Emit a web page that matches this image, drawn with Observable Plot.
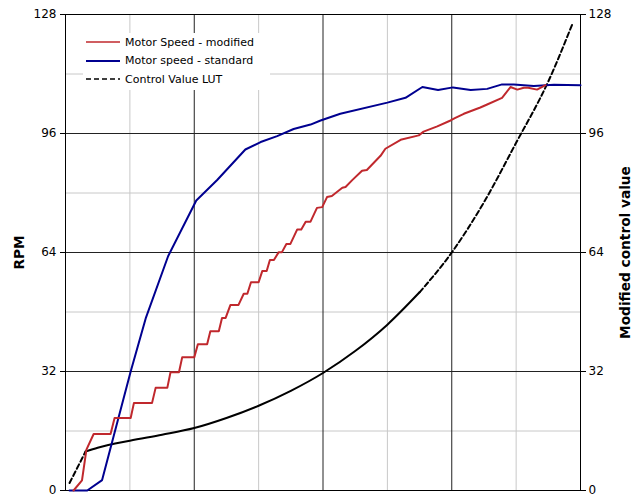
<!DOCTYPE html>
<html>
<head>
<meta charset="utf-8">
<script src="https://cdn.jsdelivr.net/npm/d3@7"></script>
<script src="https://cdn.jsdelivr.net/npm/@observablehq/plot@0.6"></script>
<style>
  body { margin: 0; background: white; font-family: "DejaVu Sans", Verdana, sans-serif; }
  #chart { position: relative; width: 640px; height: 500px; }
  #legend { position: absolute; left: 83px; top: 33px; width: 187px; padding-bottom: 1px; background: white; font-size: 11px; }
  #legend .row { display: flex; align-items: center; height: 18.5px; }
  #legend svg { margin-left: 3px; margin-right: 5px; }
</style>
</head>
<body>
<div id="chart"></div>
<script>
// Motor speed with modified control curve (staircase)
const redX = [2, 4.1, 5.2, 7, 11.2, 12.2, 16.2, 17, 21.5, 22.4, 25.3, 26.1, 28.2, 29, 32, 32.9, 35.2, 36, 38.1, 38.9,
  39.8, 41, 43, 44.3, 45.2, 46.1, 48, 48.9, 50, 50.8, 51.8, 53, 53.8, 54.9, 55.9, 57.6, 58.6, 59.7, 60.9, 62.5,
  63.8, 65, 66.2, 68.8, 69.6, 71.2, 73.7, 74.9, 78.3, 79.5, 83.3, 87.8, 89, 92.4, 95.7, 96.9, 99, 103.1, 104.8, 108.5,
  110.6, 112.3, 113.9, 115, 117.2, 119.3];
const redY = [0, 2.7, 11, 15.2, 15.2, 19.5, 19.5, 23.5, 23.5, 27.6, 27.6, 31.8, 31.8, 35.8, 35.8, 39.3, 39.3, 42.8, 42.8, 46.4,
  46.4, 49.9, 49.9, 52.9, 52.9, 56, 56, 59, 59, 62, 62, 64.1, 64.1, 66.3, 66.3, 70.2, 70.2, 72.3, 72.3, 76,
  76.2, 78.9, 79.2, 81.4, 81.6, 83.4, 86, 86.2, 90, 91.9, 94.3, 95.5, 96.5, 97.9, 99.5, 100.2, 101.3, 103, 103.8, 105.6,
  108.5, 107.8, 108.3, 108.3, 107.8, 109];

// Motor speed with standard (linear) control
const blueX = [1, 5.4, 9.1, 16.2, 20, 25.5, 32.5, 37.7, 44.7, 48.5, 52.6, 56.7, 60.9, 63.4, 68.3, 80, 84.5, 88.7,
  92.6, 96.3, 100.7, 104.8, 108.5, 111.4, 116.4, 121.4, 128];
const blueY = [0, 0, 2.8, 32, 46.5, 63, 78, 83.5, 91.7, 93.7, 95.3, 97.2, 98.4, 99.5, 101.3, 104.3, 105.6, 108.5,
  107.7, 108.4, 107.7, 108, 109.2, 109.2, 108.8, 109.1, 109];

// Control value look-up table (secondary axis, same 0..128 range)
const lutX = [1, 5, 8, 16, 24, 32, 40, 48, 56, 64, 72, 80, 88, 96, 104, 112, 120, 126];
const lutY = [2, 10.5, 11.5, 13.4, 15, 16.8, 19.5, 22.8, 26.8, 31.6, 37.5, 44.6, 53.3, 64, 77.5, 93.5, 110, 125.5];

const yTicks = [0, 32, 64, 96, 128];
const majorGrid = [32, 64, 96];
const minorGrid = [16, 48, 80, 112];

const seriesNames = ["Motor Speed - modified", "Motor speed - standard", "Control Value LUT"];
const seriesColors = ["#c0282d", "#000090", "black"];

const red = redX.map((x, i) => ({x, y: redY[i]}));
const blue = blueX.map((x, i) => ({x, y: blueY[i]}));
const lut = lutX.map((x, i) => ({x, y: lutY[i]}));
// the LUT looks solid where its points are dense, dashed at both ends
const lutStart = lut.filter((d) => d.x <= 5);
const lutMid = lut.filter((d) => d.x >= 5 && d.x <= 88);
const lutEnd = lut.filter((d) => d.x >= 88);

const chart = Plot.plot({
  width: 640,
  height: 500,
  marginLeft: 65,
  marginRight: 60,
  marginTop: 14,
  marginBottom: 10,
  style: {fontFamily: "DejaVu Sans, Verdana, sans-serif", fontSize: "12px", color: "black", background: "white"},
  x: {domain: [0, 128], axis: null},
  y: {domain: [0, 128]},
  marks: [
    Plot.gridX(minorGrid, {stroke: "#c8c8c8", strokeOpacity: 1}),
    Plot.gridY(minorGrid, {stroke: "#c8c8c8", strokeOpacity: 1}),
    Plot.gridX(majorGrid, {stroke: "#222", strokeOpacity: 1}),
    Plot.gridY(majorGrid, {stroke: "#222", strokeOpacity: 1}),
    Plot.frame({stroke: "black"}),
    Plot.axisY(yTicks, {anchor: "left", tickSize: 5, tickPadding: 4, label: "RPM", labelAnchor: "center", labelOffset: 51, labelArrow: "none"}),
    Plot.axisY(yTicks, {anchor: "right", tickSize: 5, tickPadding: 3, label: "Modified control value", labelAnchor: "center", labelOffset: 49, labelArrow: "none"}),
    Plot.line(lutStart, {x: "x", y: "y", stroke: seriesColors[2], strokeWidth: 2, strokeDasharray: "5,3"}),
    Plot.line(lutMid, {x: "x", y: "y", stroke: seriesColors[2], strokeWidth: 2, curve: "monotone-x"}),
    Plot.line(lutEnd, {x: "x", y: "y", stroke: seriesColors[2], strokeWidth: 2, strokeDasharray: "5,3", curve: "monotone-x"}),
    Plot.line(blue, {x: "x", y: "y", stroke: seriesColors[1], strokeWidth: 2}),
    Plot.line(red, {x: "x", y: "y", stroke: seriesColors[0], strokeWidth: 2})
  ]
});

d3.select(chart).selectAll('g[aria-label="y-axis label"] text')
  .attr("font-weight", "bold")
  .attr("font-size", 13.7);

const container = document.getElementById("chart");
container.appendChild(chart);

// legend box sits inside the plot area, over the grid
const legend = document.createElement("div");
legend.id = "legend";
seriesNames.forEach((name, i) => {
  const row = document.createElement("div");
  row.className = "row";
  const dash = i === 2 ? 'stroke-dasharray="5,3"' : "";
  const w = i === 1 ? 2 : 1.5;
  row.innerHTML = `<svg width="34" height="6"><line x1="0" x2="34" y1="3" y2="3" stroke="${seriesColors[i]}" stroke-width="${w}" ${dash}/></svg><span>${name}</span>`;
  legend.appendChild(row);
});
container.appendChild(legend);
</script>
</body>
</html>
